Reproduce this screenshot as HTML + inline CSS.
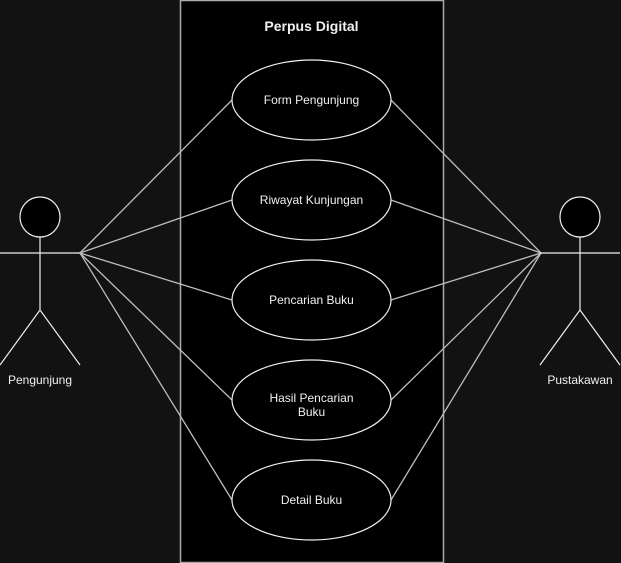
<!DOCTYPE html>
<html><head><meta charset="utf-8"><style>
html,body{margin:0;padding:0;background:#121212;}
svg{display:block;}
text{font-family:"Liberation Sans",sans-serif;fill:#f0f0f0;}
</style></head><body>
<svg width="621" height="563" viewBox="0 0 621 563" xmlns="http://www.w3.org/2000/svg">
<rect x="0" y="0" width="621" height="563" fill="#121212"/>
<rect x="180.5" y="0.5" width="263" height="562" fill="#000" stroke="#aaa" stroke-width="1.5"/>
<text x="311.5" y="31" font-size="14" font-weight="bold" text-anchor="middle" fill="#fff">Perpus Digital</text>
<g stroke="#bdbdbd" stroke-width="1.3" fill="none">
<line x1="80" y1="253" x2="232" y2="100"/>
<line x1="80" y1="253" x2="232" y2="200"/>
<line x1="80" y1="253" x2="232" y2="300"/>
<line x1="80" y1="253" x2="232" y2="400"/>
<line x1="80" y1="253" x2="232" y2="500"/>
<line x1="541" y1="253" x2="391" y2="100"/>
<line x1="541" y1="253" x2="391" y2="200"/>
<line x1="541" y1="253" x2="391" y2="300"/>
<line x1="541" y1="253" x2="391" y2="400"/>
<line x1="541" y1="253" x2="391" y2="500"/>
</g>
<g stroke="#f0f0f0" stroke-width="1.2" fill="#000">
<ellipse cx="311.5" cy="100" rx="79.5" ry="40"/>
<ellipse cx="311.5" cy="200" rx="79.5" ry="40"/>
<ellipse cx="311.5" cy="300" rx="79.5" ry="40"/>
<ellipse cx="311.5" cy="400" rx="79.5" ry="40"/>
<ellipse cx="311.5" cy="500" rx="79.5" ry="40"/>
</g>
<g font-size="12" text-anchor="middle">
<text x="311.5" y="104">Form Pengunjung</text>
<text x="311.5" y="204">Riwayat Kunjungan</text>
<text x="311.5" y="304">Pencarian Buku</text>
<text x="311.5" y="402">Hasil Pencarian</text>
<text x="311.5" y="416">Buku</text>
<text x="311.5" y="504">Detail Buku</text>
</g>
<g stroke="#f0f0f0" stroke-width="1.2" fill="#000">
<circle cx="40" cy="217" r="20"/>
<line x1="40" y1="237" x2="40" y2="310"/>
<line x1="0" y1="253" x2="80" y2="253"/>
<polyline points="0,365 40,310 80,365" fill="none"/>
<circle cx="580" cy="217" r="20"/>
<line x1="580" y1="237" x2="580" y2="310"/>
<line x1="540" y1="253" x2="620" y2="253"/>
<polyline points="540,365 580,310 620,365" fill="none"/>
</g>
<text x="40" y="384" font-size="12" text-anchor="middle">Pengunjung</text>
<text x="580" y="384" font-size="12" text-anchor="middle">Pustakawan</text>
</svg>
</body></html>
